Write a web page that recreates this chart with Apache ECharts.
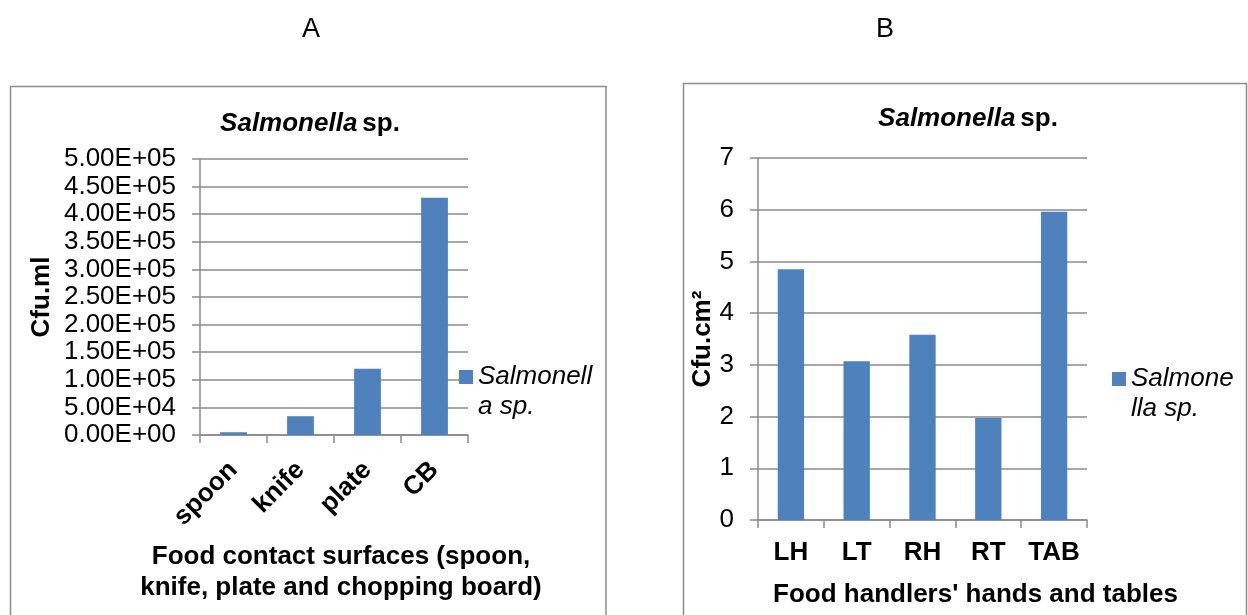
<!DOCTYPE html>
<html>
<head>
<meta charset="utf-8">
<style>
  html, body { margin: 0; padding: 0; background: #ffffff; }
  #chart { width: 1248px; height: 615px; }
</style>
<script src="https://cdn.jsdelivr.net/npm/echarts@6/dist/echarts.min.js"></script>
</head>
<body>
<div id="chart"></div>
<script>
// Panel A: food contact surfaces (Cfu.ml)
const surfaceCategories = ['spoon', 'knife', 'plate', 'CB'];
const surfaceCounts = [5000, 34000, 120000, 430000];

// Panel B: food handlers' hands and tables (Cfu.cm²)
const handlerCategories = ['LH', 'LT', 'RH', 'RT', 'TAB'];
const handlerCounts = [4.85, 3.07, 3.58, 1.97, 5.96];

const seriesName = 'Salmonella sp.';
const panelLetters = ['A', 'B'];

const FONT = '"Liberation Sans", Arial, sans-serif';
const BAR = '#4f81bd';
const GRID_LINE = '#8a8a8a';

// 5.00E+05 style labels
function sci(v) {
  if (v === 0) return '0.00E+00';
  const e = Math.floor(Math.log10(v) + 1e-9);
  const m = v / Math.pow(10, e);
  return m.toFixed(2) + 'E' + (e < 0 ? '-' : '+') + String(Math.abs(e)).padStart(2, '0');
}

const titleRich = {
  i: { fontFamily: FONT, fontSize: 26, fontWeight: 'bold', fontStyle: 'italic', color: '#000' },
  b: { fontFamily: FONT, fontSize: 26, fontWeight: 'bold', color: '#000' }
};

function valueAxis(gridIndex, max, interval, formatter, name, nameGap) {
  return {
    type: 'value', gridIndex, min: 0, max, interval,
    name, nameLocation: 'middle', nameGap, nameRotate: 90,
    nameTextStyle: { fontFamily: FONT, fontSize: 26, fontWeight: 'bold', color: '#000' },
    axisLine: { show: true, lineStyle: { color: GRID_LINE, width: 1.5 } },
    axisTick: { show: true, length: 8, lineStyle: { color: GRID_LINE, width: 1.5 } },
    splitLine: { show: true, lineStyle: { color: GRID_LINE, width: 1.5 } },
    axisLabel: { formatter, margin: 24, fontFamily: FONT, fontSize: 26, color: '#000' }
  };
}

// Legend text wraps inside a narrow column; the leading blank line keeps
// the first text line level with the colour swatch.
function legendFor(left, top, splitAt) {
  return {
    left, top, padding: 0, itemWidth: 14, itemHeight: 14, itemGap: 0,
    icon: 'rect', selectedMode: false,
    data: [seriesName],
    formatter: n => '\n' + n.slice(0, splitAt) + '\n' + n.slice(splitAt),
    textStyle: {
      fontFamily: FONT, fontSize: 26, fontStyle: 'italic', color: '#000',
      lineHeight: 30
    }
  };
}

const chart = echarts.init(document.getElementById('chart'), null, { renderer: 'canvas' });

chart.setOption({
  backgroundColor: '#ffffff',
  animation: false,
  title: [
    { text: '{i|Salmonella} {b|sp.}', left: 310, top: 124, textAlign: 'center', textVerticalAlign: 'middle', padding: 0, textStyle: { rich: titleRich } },
    { text: '{i|Salmonella} {b|sp.}', left: 968, top: 119, textAlign: 'center', textVerticalAlign: 'middle', padding: 0, textStyle: { rich: titleRich } }
  ],
  legend: [legendFor(459, 332, 9), legendFor(1112, 334, 7)],
  grid: [
    { left: 200, top: 159, width: 268, height: 276 },
    { left: 758, top: 158, width: 329, height: 362 }
  ],
  xAxis: [
    {
      type: 'category', gridIndex: 0, data: surfaceCategories,
      name: 'Food contact surfaces (spoon,\nknife, plate and chopping board)',
      nameLocation: 'middle', nameGap: 106,
      nameTextStyle: { fontFamily: FONT, fontSize: 26, fontWeight: 'bold', color: '#000', lineHeight: 31, padding: [0, 0, 0, 14] },
      axisLine: { lineStyle: { color: GRID_LINE, width: 1.5 } },
      axisTick: { show: true, length: 8, lineStyle: { color: GRID_LINE, width: 1.5 } },
      axisLabel: { rotate: 45, margin: 31, interval: 0, fontFamily: FONT, fontSize: 26, fontWeight: 'bold', color: '#000' }
    },
    {
      type: 'category', gridIndex: 1, data: handlerCategories,
      name: "Food handlers' hands and tables",
      nameLocation: 'middle', nameGap: 62,
      nameTextStyle: { fontFamily: FONT, fontSize: 26, fontWeight: 'bold', color: '#000', padding: [0, 0, 0, 106] },
      axisLine: { lineStyle: { color: GRID_LINE, width: 1.5 } },
      axisTick: { show: true, length: 8, lineStyle: { color: GRID_LINE, width: 1.5 } },
      axisLabel: { margin: 20, interval: 0, fontFamily: FONT, fontSize: 26, fontWeight: 'bold', color: '#000' }
    }
  ],
  yAxis: [
    valueAxis(0, 500000, 50000, sci, 'Cfu.ml', 145),
    valueAxis(1, 7, 1, v => String(v), 'Cfu.cm²', 42)
  ],
  series: [
    {
      name: seriesName, type: 'bar', xAxisIndex: 0, yAxisIndex: 0,
      data: surfaceCounts, barCategoryGap: '60%',
      itemStyle: { color: BAR }
    },
    {
      name: seriesName, type: 'bar', xAxisIndex: 1, yAxisIndex: 1,
      data: handlerCounts, barCategoryGap: '60%',
      itemStyle: { color: BAR }
    }
  ],
  graphic: [
    { type: 'rect', silent: true, shape: { x: 10.5, y: 86.5, width: 595.5, height: 600 }, style: { fill: 'none', stroke: '#8c8c8c', lineWidth: 1.5 } },
    { type: 'rect', silent: true, shape: { x: 683.5, y: 83.5, width: 563, height: 600 }, style: { fill: 'none', stroke: '#8c8c8c', lineWidth: 1.5 } },
    { type: 'text', silent: true, x: 311, y: 30, style: { text: panelLetters[0], font: '27px ' + FONT, fill: '#000', align: 'center', verticalAlign: 'middle' } },
    { type: 'text', silent: true, x: 885, y: 30, style: { text: panelLetters[1], font: '27px ' + FONT, fill: '#000', align: 'center', verticalAlign: 'middle' } }
  ]
});
</script>
</body>
</html>
